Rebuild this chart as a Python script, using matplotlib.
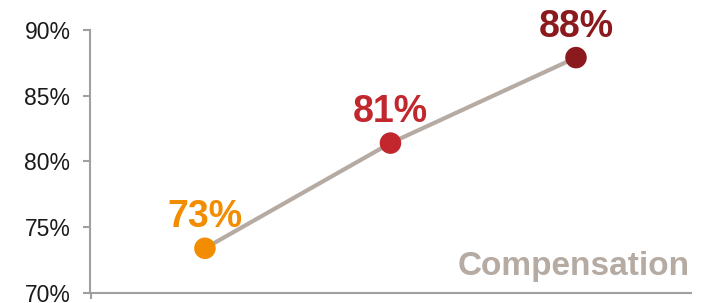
import matplotlib.pyplot as plt

plt.rcParams['font.family'] = ['Liberation Sans', 'DejaVu Sans']

categories = ['Low', 'Mid', 'High']
values = [73.4, 81.4, 87.9]
labels = ['73%', '81%', '88%']
point_colors = ['#F28C00', '#C1272D', '#8B1A1F']
y_ticks = [70, 75, 80, 85, 90]
series_name = 'Compensation'

fig = plt.figure(figsize=(7.08, 3.03), dpi=100)
ax = fig.add_axes([0.127, 0.033, 0.849, 0.868])

x = range(len(categories))
ax.plot(x, values, color='#B5ABA3', linewidth=3, zorder=2)
ax.scatter(x, values, s=15.5**2, c=point_colors, zorder=3, linewidths=0)

for xi, v, lab, col in zip(x, values, labels, point_colors):
    ax.annotate(lab, (xi, v), xytext=(0, 15), textcoords='offset points',
                ha='center', va='baseline', fontsize=27, fontweight='bold',
                color=col)

ax.text(0.998, 0.07, series_name, transform=ax.transAxes, ha='right',
        va='baseline', fontsize=24, fontweight='bold', color='#B5ABA3')

ax.set_xlim(-0.62, 2.62)
ax.set_ylim(70, 90)
ax.set_yticks(y_ticks)
ax.set_yticklabels([f'{t}%' for t in y_ticks])
ax.set_xticks([-0.615])
ax.set_xticklabels([''])

for side in ['top', 'right']:
    ax.spines[side].set_visible(False)
for side in ['left', 'bottom']:
    ax.spines[side].set_color('#A0A0A0')
    ax.spines[side].set_linewidth(1.5)

ax.tick_params(axis='y', length=5, width=1.5, color='#A0A0A0', pad=9,
               labelsize=16.5, labelcolor='#1A1A1A')
ax.tick_params(axis='x', length=4, width=1.5, color='#A0A0A0')

fig.savefig('out.png', dpi=100)
